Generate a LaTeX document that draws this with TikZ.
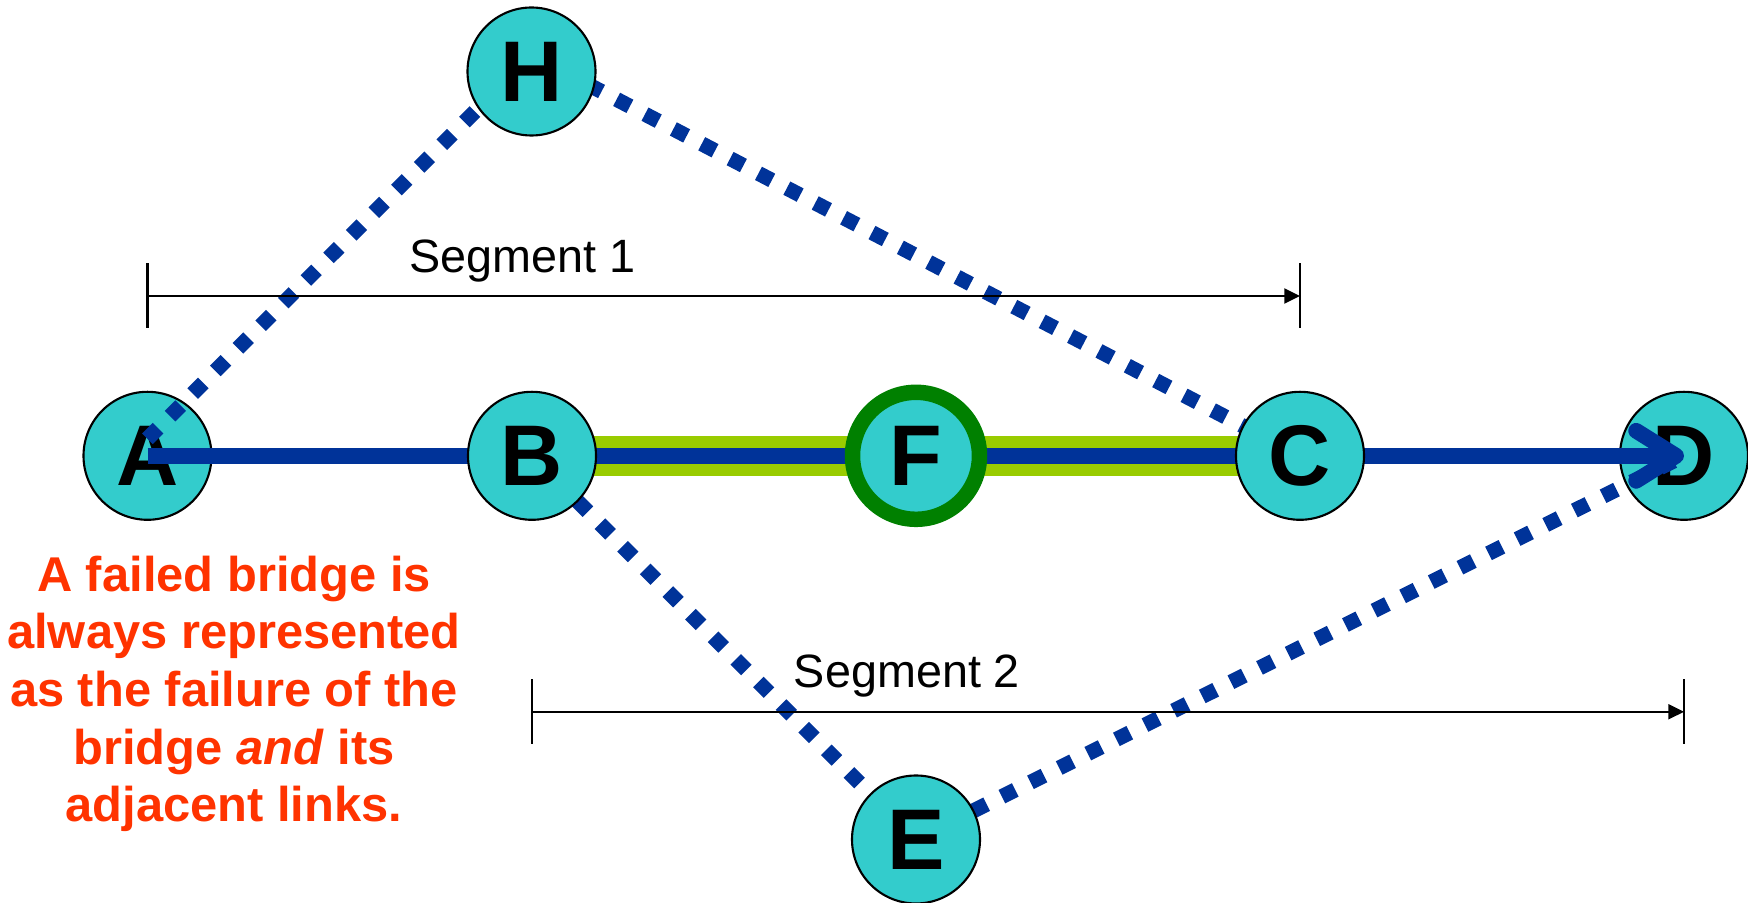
\documentclass[tikz,border=0pt]{standalone}
\usepackage{fontspec}
\setmainfont{Liberation Sans}
\usetikzlibrary{arrows.meta,calc}
\definecolor{nodecyan}{HTML}{33CCCC}
\definecolor{linkblue}{HTML}{003399}
\definecolor{bandgreen}{HTML}{99CC00}
\definecolor{bridgegreen}{HTML}{008000}
\definecolor{notered}{HTML}{FF3300}
\pgfdeclarelayer{bottom}
\pgfdeclarelayer{mid}
\pgfsetlayers{bottom,mid,main}
\begin{document}
\begin{tikzpicture}[
  bridge/.style={circle, fill=nodecyan, draw=black, line width=0.6pt, minimum size=1.28cm, inner sep=0pt, font=\fontsize{24.5}{28}\selectfont\bfseries},
  failed/.style={bridge, draw=bridgegreen, line width=0.155cm, minimum size=1.27cm},
  link/.style={linkblue, line width=0.157cm},
  backup/.style={linkblue, line width=0.15cm, dash pattern=on 0.15cm off 0.17cm},
  band/.style={bandgreen, line width=0.4cm},
  span/.style={black, line width=0.6pt},
  spantip/.style={-{Triangle[length=0.157cm,width=0.15cm]}},
  spanlabel/.style={font=\fontsize{13.3}{16}\selectfont, anchor=base, inner sep=0pt},
  note/.style={notered, align=center, font=\fontsize{13.9}{16.4}\selectfont\bfseries, inner sep=0pt}
]
\useasboundingbox (0,0) rectangle (17.48,9.03);
\begin{pgfonlayer}{bottom}
  \node[bridge] (A) at (1.475,4.472) {A};
  \node[bridge] (D) at (16.84,4.472) {D};
\end{pgfonlayer}
\node[bridge] (B) at (5.32,4.472) {B};
\node[failed] (F) at (9.16,4.472) {F};
\node[bridge] (C) at (13.00,4.472) {C};
\node[bridge] (H) at (5.315,8.315) {H};
\node[bridge] (E) at (9.16,0.635) {E};
\begin{pgfonlayer}{mid}
  \draw[band] (B.center) -- (C.center);
  \draw[backup] ($(A.center)+(0,0.17)$) -- ($(H.center)+(0,0.165)$);
  \draw[backup] ($(H.center)+(0,0.165)$) -- (C.center);
  \draw[backup] (B.center) -- (E.center);
  \draw[backup] (E.center) -- (D.center);
  \draw[link, -{Straight Barb[round, length=0.4cm, width=0.5cm]}] (A.center) -- (D.center);
\end{pgfonlayer}
% Segment 1
\coordinate (s1a) at (A.center |- 0,6.07);
\coordinate (s1b) at (C.center |- 0,6.07);
\draw[span] ($(s1a)+(0,0.325)$) -- ($(s1a)-(0,0.325)$);
\draw[span] ($(s1b)+(0,0.325)$) -- ($(s1b)-(0,0.325)$);
\draw[span, spantip] (s1a) -- (s1b);
\node[spanlabel] (seg1) at (5.225,6.307) {Segment 1};
% Segment 2
\coordinate (s2a) at (B.center |- 0,1.912);
\coordinate (s2b) at (D.center |- 0,1.912);
\draw[span] ($(s2a)+(0,0.325)$) -- ($(s2a)-(0,0.325)$);
\draw[span] ($(s2b)+(0,0.325)$) -- ($(s2b)-(0,0.325)$);
\draw[span, spantip] (s2a) -- (s2b);
\node[spanlabel] (seg2) at (9.07,2.153) {Segment 2};
% note
\node[note, anchor=base] (note) at (2.34,0.813) {A failed bridge is\\always represented\\as the failure of the\\bridge \textit{and} its\\adjacent links.};
\end{tikzpicture}
\end{document}
